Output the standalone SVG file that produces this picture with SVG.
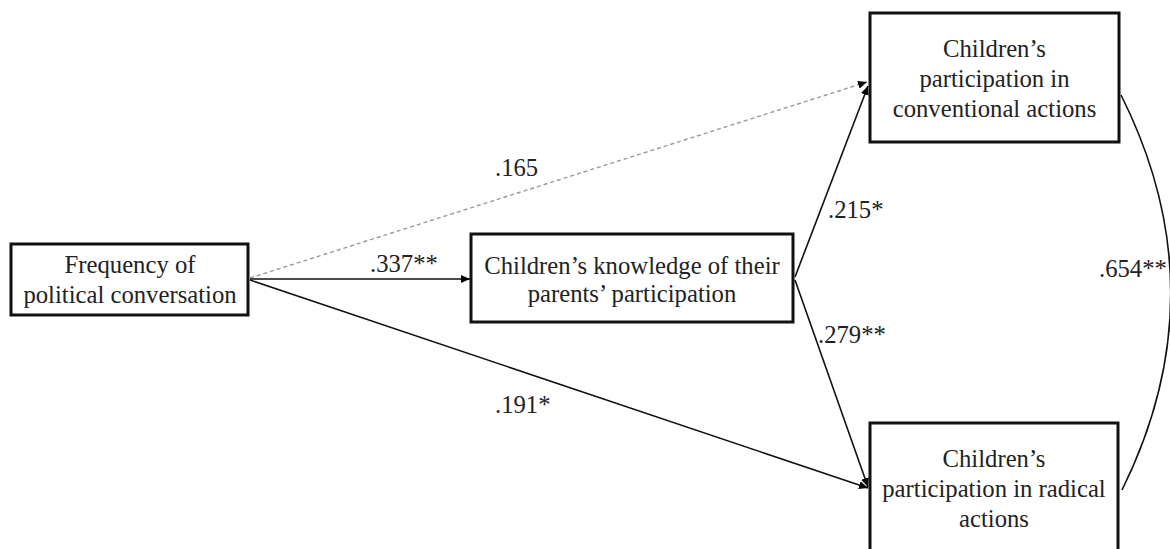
<svg xmlns="http://www.w3.org/2000/svg" width="1170" height="549" viewBox="0 0 1170 549">
<defs>
<marker id="arr" markerUnits="userSpaceOnUse" markerWidth="10" markerHeight="8" refX="9" refY="4" orient="auto">
<path d="M0,0 L9,4 L0,8 z" fill="#000"/>
</marker>
<style>
.box{fill:#fff;stroke:#111;stroke-width:3}
.t{font-family:"Liberation Serif","Times New Roman",serif;font-size:24.7px;fill:#222;text-anchor:middle}
.lbl{font-family:"Liberation Serif","Times New Roman",serif;font-size:24.7px;fill:#222}
.e{fill:none;stroke:#111;stroke-width:1.6}
.d{fill:none;stroke:#999;stroke-width:1.4;stroke-dasharray:4 3}
</style>
</defs>
<rect width="1170" height="549" fill="#fff"/>
<g id="connectors">
<line class="d" x1="250" y1="278" x2="867" y2="82" marker-end="url(#arr)"/>
<line class="e" x1="250" y1="279" x2="470" y2="279" marker-end="url(#arr)"/>
<line class="e" x1="250" y1="280" x2="868" y2="488" marker-end="url(#arr)"/>
<line class="e" x1="795" y1="277" x2="868" y2="86" marker-end="url(#arr)"/>
<line class="e" x1="795" y1="280" x2="868" y2="487" marker-end="url(#arr)"/>
<path class="e" d="M1121,95 Q1220,292 1122,490"/>
<text class="lbl" x="495" y="176">.165</text>
<text class="lbl" x="370" y="272">.337**</text>
<text class="lbl" x="495" y="413">.191*</text>
<text class="lbl" x="828" y="218">.215*</text>
<text class="lbl" x="818" y="343">.279**</text>
<text class="lbl" x="1099" y="277">.654**</text>
</g>
<g id="n1">
<rect class="box" x="11" y="244" width="237" height="71"/>
<text class="t" x="130" y="273">Frequency of</text>
<text class="t" x="130" y="303">political conversation</text>
</g>
<g id="n2">
<rect class="box" x="471" y="234" width="322" height="88"/>
<text class="t" x="632" y="274">Children’s knowledge of their</text>
<text class="t" x="632" y="302">parents’ participation</text>
</g>
<g id="n3">
<rect class="box" x="870" y="13" width="249" height="129"/>
<text class="t" x="994.5" y="57">Children’s</text>
<text class="t" x="994.5" y="87">participation in</text>
<text class="t" x="994.5" y="117">conventional actions</text>
</g>
<g id="n4">
<rect class="box" x="870" y="423" width="248" height="140"/>
<text class="t" x="994" y="467">Children’s</text>
<text class="t" x="994" y="497">participation in radical</text>
<text class="t" x="994" y="527">actions</text>
</g>
</svg>
